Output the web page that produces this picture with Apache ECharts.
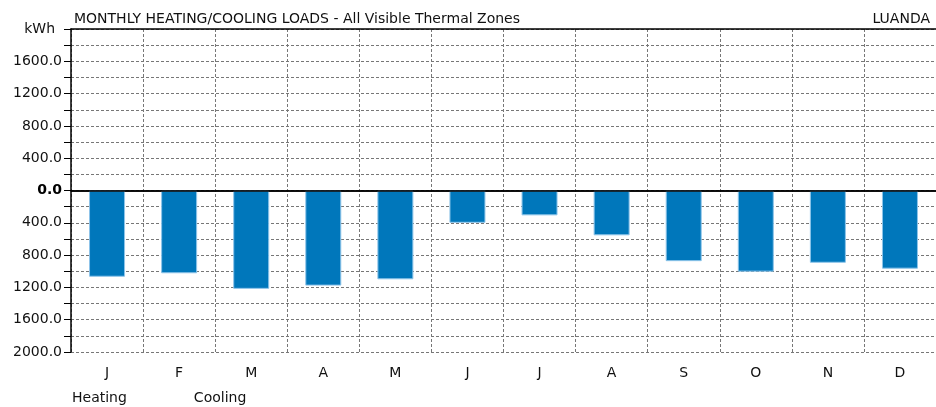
<!DOCTYPE html>
<html>
<head>
<meta charset="utf-8">
<script src="https://cdn.jsdelivr.net/npm/echarts@6/dist/echarts.min.js"></script>
<style>
  html, body { margin: 0; padding: 0; background: #fff; }
  #chart { width: 936px; height: 407px; }
</style>
</head>
<body>
<div id="chart"></div>
<script>
// monthly loads, kWh (cooling shown below zero)
var months = ['J', 'F', 'M', 'A', 'M', 'J', 'J', 'A', 'S', 'O', 'N', 'D'];
var heating = [0, 0, 0, 0, 0, 0, 0, 0, 0, 0, 0, 0];
var cooling = [-1068, -1025, -1218, -1178, -1100, -400, -308, -555, -875, -1005, -895, -968];

var font = 'DejaVu Sans';
var chart = echarts.init(document.getElementById('chart'));

var option = {
  animation: false,
  textStyle: { fontFamily: font },
  grid: { left: 71, right: 0, top: 29, bottom: 55 },
  title: [
    {
      text: 'MONTHLY HEATING/COOLING LOADS - All Visible Thermal Zones',
      left: 69, top: 7,
      textStyle: { fontFamily: font, fontSize: 14, fontWeight: 'normal', color: '#111' }
    },
    {
      text: 'LUANDA',
      right: 1, top: 7,
      textStyle: { fontFamily: font, fontSize: 14, fontWeight: 'normal', color: '#111' }
    }
  ],
  legend: {
    data: ['Heating', 'Cooling'],
    left: 62, top: 386,
    icon: 'none',
    itemWidth: 0, itemHeight: 0,
    itemGap: 62,
    textStyle: { fontFamily: font, fontSize: 14, color: '#111' }
  },
  xAxis: [
    {
      type: 'category',
      data: months,
      axisLine: { lineStyle: { color: '#000', width: 1.5 } },
      axisTick: { alignWithLabel: true, length: 6, lineStyle: { color: '#000' } },
      axisLabel: { fontFamily: font, fontSize: 14, color: '#111', margin: 14 },
      splitLine: { show: true, lineStyle: { color: '#777', type: [3, 2], width: 1 } }
    },
    {
      type: 'category',
      position: 'top',
      data: months,
      axisLine: { lineStyle: { color: '#000', width: 1.5 } },
      axisTick: { show: false },
      axisLabel: { show: false }
    }
  ],
  yAxis: {
    type: 'value',
    min: -2000, max: 2000, interval: 200,
    name: 'kWh',
    nameLocation: 'end',
    nameGap: 0,
    nameTextStyle: { fontFamily: font, fontSize: 14, color: '#111', align: 'right', verticalAlign: 'middle', padding: [0, 16, 0, 0] },
    axisLine: { show: true, lineStyle: { color: '#000', width: 1.5 } },
    axisTick: { show: true, length: 7, lineStyle: { color: '#000' } },
    axisLabel: {
      fontFamily: font, fontSize: 14, color: '#111', margin: 9,
      formatter: function (v) {
        if (v === 2000 || Math.abs(v) % 400 !== 0) return '';
        if (v === 0) return '{b|0.0}';
        return Math.abs(v).toFixed(1);
      },
      rich: { b: { fontFamily: font, fontSize: 14, fontWeight: 'bold', color: '#000' } }
    },
    splitLine: { show: true, lineStyle: { color: '#777', type: [3, 2], width: 1 } }
  },
  series: [
    {
      name: 'Heating',
      type: 'bar',
      data: heating,
      barWidth: 36,
      barGap: '-100%',
      itemStyle: { color: '#d32f2f' }
    },
    {
      name: 'Cooling',
      type: 'bar',
      data: cooling,
      barWidth: 36,
      itemStyle: { color: '#0077BB', borderColor: '#8EC5EA', borderWidth: 1 },
      markLine: {
        silent: true,
        symbol: 'none',
        label: { show: false },
        lineStyle: { color: '#000', type: 'solid', width: 1.5 },
        data: [{ yAxis: 0 }]
      }
    }
  ]
};
chart.setOption(option);
</script>
</body>
</html>
